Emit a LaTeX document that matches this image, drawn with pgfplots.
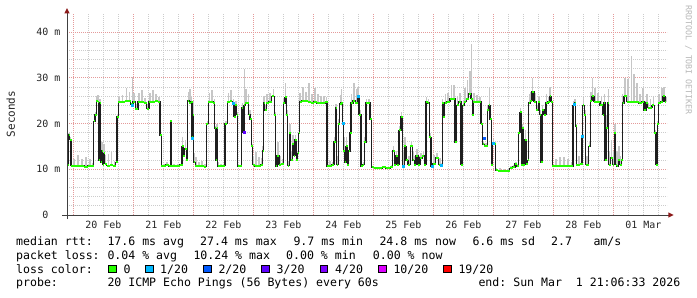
\documentclass[border=0pt]{standalone}
\usepackage{fontspec}
\setmonofont{DejaVu Sans Mono}
\usepackage{pgfplots}
\pgfplotsset{compat=1.18}
\usepackage{pgfplotstable}
\usetikzlibrary{arrows.meta}

\definecolor{lossgreen}{HTML}{26FF00}
\definecolor{loss1}{HTML}{00B8FF}
\definecolor{loss2}{HTML}{0059FF}
\definecolor{loss3}{HTML}{5E00FF}
\definecolor{loss4}{HTML}{7E00FF}
\definecolor{loss10}{HTML}{DD00FF}
\definecolor{loss19}{HTML}{FF0000}
\definecolor{majgrid}{HTML}{E49A9A}
\definecolor{mingrid}{HTML}{CCCCCC}
\definecolor{arrowred}{HTML}{8C1A1A}
\definecolor{axisgray}{HTML}{404040}
\definecolor{smoke}{HTML}{C6C6C6}
\definecolor{medline}{HTML}{1E1E1E}

% h = hours since 20 Feb 00:00, y = median rtt (ms), s = smoke extent above median (ms)
\pgfplotstableread{
h y s
-2.52 17.5 0.5
-2.12 11 0
-1.72 17.5 0.5
-1.12 16.5 0.5
-0.72 10.8 0.5
0.28 10.8 1.5
1.88 10.7 2.5
3.48 10.8 1.5
5.08 10.6 2
6.68 10.7 1.5
7.88 10.8 0.5
8.4 20.5 0
8.88 22 0.5
9.48 25 1
9.88 24.8 1.5
10.28 12 1
10.68 24.5 1
11.08 11.5 2
11.48 14 2
11.88 11 3
12.28 13.5 2
12.68 11.2 2
14.08 10.8 2.5
15.28 10.9 3
16.48 10.8 1
17.28 11.5 1
17.68 21.5 0.5
18.28 24.8 1
19.68 24.8 1.5
21.28 24.9 3
22.48 25 2
23.52 24.2 6
24.28 24.8 2
25.36 23.2 1
26.28 24.8 2
27.48 24.8 2.5
28.68 24.6 1
29.88 23.3 1
30.68 24.8 2
31.88 24.8 2.5
33.08 24.9 1.5
34.28 24.8 1
34.96 17.5 0.5
35.36 10.7 1
36.28 10.7 0.5
37.48 11 0.5
38.68 10.7 0.3
38.96 20.5 0.3
39.36 10.8 0.3
40.28 10.7 0.5
41.88 10.7 0.5
43.28 11 1
43.76 15 2
44.28 13 1.5
44.88 14.5 2
45.48 12 1
46 25 2
46.68 24.5 3
47.28 24.8 1
47.6 17 0.5
48 22 3
48.4 11.5 2
49.08 10.7 2
50.28 10.7 1
51.48 10.8 1
52.68 10.6 0.5
53.6 20 0.5
54.4 24.8 2
55.48 24.8 2.5
56.4 24.5 1
56.68 19 0.5
57.08 12 2
57.48 19 1
58 10.7 1
59.08 10.7 0.5
60.28 10.8 0.3
61.08 20 0.5
62 24.8 2
63.08 24.9 2.5
64 24.5 1
64.48 21.5 0.5
65.08 24 1
65.6 22 0.5
66 10.7 0.5
67.08 10.7 0.3
67.6 23.5 1
68.08 18 0.5
68.4 24 8
69.08 24.6 3
70 24.5 2
70.4 22 1
70.96 21 2
71.48 15 0.5
71.88 11 2
73.08 10.7 3
74.28 10.8 2
75.48 11 1.5
75.88 14 1
76.28 24.5 1.5
76.88 23 1
77.48 24.5 2
78.68 24.8 2
80 26 1.5
80.68 22 0.5
81.08 10.7 1
81.88 13 3
82.68 11 2
83.76 11.2 1
84.28 24.5 1
84.96 25.8 3
85.48 22 1
86 10.8 1
86.68 17.9 2
87.28 12 2
87.88 15.5 2
88.4 13 2
88.88 16.5 1
89.48 12 2
90 13.5 1
90.4 17.9 0.5
90.68 24.8 2
91.88 25 3
93.08 24.9 2
94.28 24.8 4
95.48 24.6 2
96.68 24.8 3
97.88 24.5 2
99.08 24.6 1.5
100.28 24.5 1.5
101.28 24.8 1
101.6 10.7 0.5
102.68 10.8 1
103.88 11 0.5
104.68 16 1
105.08 23.4 1
105.6 11 2
106.28 20 1
106.88 24.3 2
107.36 24.5 3
107.76 20 2
108.28 14 3
108.8 11.5 2
109.36 15 2
109.88 11 1
110.4 14 2
110.88 18 1
111.36 24.5 2
112.28 25 4
113.28 24.5 3
113.88 26 2
114.68 22 1
115.36 10.7 0.5
116 11 0.5
116.68 16 1
117.36 24.5 1
118.28 24.5 1
118.96 21 0.5
119.76 10.4 0.3
121.08 10.3 0.3
122.68 10.3 0.3
124.28 10.4 0.3
125.88 10.3 0.3
127.48 10.4 0.5
128.08 14 1
128.68 11 2
129.36 13 1
129.88 11 1
130.68 18.5 1
131.36 21.5 1
132 10.7 3
132.68 15 2
133.36 12 3
134.28 11 2
135.36 15 1
136 12 2
136.68 11 2
137.48 13 1.5
138.28 11 2
139.08 12.5 1
140 13 1
140.68 11 1
141.36 24.8 1
142 24.5 1
142.68 17 1
143.36 10.7 1
144.28 11.2 2
145.48 12.5 1
146.68 11 1.5
147.36 10.8 0.5
147.76 24.5 1
148.28 21.5 2
148.88 24.5 2
149.88 24.8 2
151.36 25.5 3
152.28 25.5 3
153.08 16 1
153.68 24 2
154.68 24.8 2
155.36 11 2
156 24 1
156.68 24.8 3
157.68 25.5 4
158.68 26.5 5
159.36 25.5 12
159.76 22 2
160.28 24.8 2
161.48 24.8 1.5
162.68 24.8 1
163.36 20 0.5
164 15.5 0.5
164.68 15.2 0.5
165.36 15.2 0.5
165.76 23 1
166.4 24 4
166.96 21 1
167.36 11 0.5
168 15.7 1
168.68 15.5 0.5
169.08 9.8 0.5
170.68 9.7 0.5
172.28 9.7 0.3
173.88 9.7 0.3
175.08 10.2 0.5
176.28 10.5 0.5
177.08 11.2 0.5
177.68 10.7 0.5
178.4 18 1
178.96 22.5 1
179.48 11 1
179.76 19 1
180.28 11 1
180.96 16.5 2
181.36 11.2 1
182 12 1
182.4 24.5 2
183.08 25 2
183.76 27 3
184.68 24.8 2
185.6 23 1
186.28 24.8 1
186.68 22 1
187.36 11.5 0.5
187.76 23 1
188.68 22 1
189.36 24.5 2
190.28 24.8 1
190.68 26 2
191.36 24.8 1
191.76 10.7 1
193.08 10.7 1.5
194.68 10.8 2
196.28 10.7 2
197.88 10.8 1.5
199.48 10.7 1
200.28 24 1
200.68 24.5 1
201.08 19.5 0.5
201.36 11 2
202.28 11 2
203.28 11.2 1
203.6 17.3 1
204 24 2
204.68 22 1
205.08 11 2
205.88 11 2
206.4 15 1
207.08 25 2
207.76 26 4
208.68 24.8 3
209.88 24.8 2
211.36 24 2
212 22 1
212.4 24.5 2
212.96 12 2
213.36 19 3
214 24.5 3
214.4 11 3
215.36 12.5 4
216 11 3
216.68 17.9 2
217.08 11 3
217.6 10.7 3
218.28 12 3
218.88 11 2
219.6 12 1
219.76 24.5 2
220.68 26 4
221.88 24.8 5
223.36 24.8 10
224.28 24.8 6
225.48 24.8 4
226.68 24.5 2
227.88 24.8 3
228.68 23 2
229.48 24.5 2
230.08 23.5 1
230.96 23.5 2
232 24 2
232.68 18 0.5
233.36 11 0.5
233.76 20 0.5
234.28 24.5 2
235.48 24.8 3
236.28 26 2
237.08 24.8 1
}\med

\begin{document}
\begin{tikzpicture}[x=1bp,y=1bp]
\path[use as bounding box] (0,0) rectangle (697,297);
\fill[white] (0,0) rectangle (697,297);
\begin{axis}[
  at={(67bp,82bp)}, anchor=south west,
  scale only axis, width=600bp, height=201.7bp,
  xmin=-2.52, xmax=237.48, ymin=0, ymax=44.16,
  axis line style={draw=none},
  major tick length=0pt, minor tick length=0pt,
  xtick={12,36,...,228},
  xticklabels={20 Feb,21 Feb,22 Feb,23 Feb,24 Feb,25 Feb,26 Feb,27 Feb,28 Feb,01 Mar},
  minor xtick={6,12,18,30,36,42,54,60,66,78,84,90,102,108,114,126,132,138,150,156,162,174,180,186,198,204,210,222,228,234},
  xmajorgrids=false, xminorgrids=true,
  extra x ticks={0,24,...,216}, extra x tick labels={},
  extra x tick style={grid=major},
  ytick={0,10,20,30,40},
  yticklabels={0\hphantom{ m},10 m,20 m,30 m,40 m},
  minor y tick num=4,
  ymajorgrids=true, yminorgrids=true,
  major grid style={draw=majgrid, line width=1bp, dash pattern=on 1bp off 1bp},
  minor grid style={draw=mingrid, line width=1bp, dash pattern=on 1bp off 1bp},
  ticklabel style={font=\ttfamily\fontsize{10}{12}\selectfont, text=black!85},
  xticklabel style={anchor=base, inner sep=0pt, yshift=-13.3bp},
  yticklabel style={anchor=east, inner sep=0pt, xshift=-6.5bp},
]
% smoke
\addplot[draw=none, mark=none, forget plot,
  error bars/.cd, y dir=plus, y explicit, error mark=none,
  error bar style={draw=smoke, line width=1.2bp, solid}]
  table[x=h, y=y, y error=s] {\med};
% median connectors
\addplot[const plot mark mid, mark=none, draw=medline, line width=1.3bp] table[x=h, y=y] {\med};
% median, loss-free colour
\addplot[jump mark mid, mark=none, color=lossgreen, line width=2bp] table[x=h, y=y] {\med};
% samples with some loss
\addplot[only marks, mark=square*, mark size=1bp, color=loss1] coordinates {
(23.4,24) (47.7,16.8) (64.1,24.4) (107.76,20.1) (113.8,26.1) (132,10.7) (143.5,10.7) (147,11) (168,15.7) (200.3,24.3) (203.6,17.3)};
\addplot[only marks, mark=square*, mark size=1bp, color=loss2] coordinates {(164.4,16.9)};
\addplot[only marks, mark=square*, mark size=1bp, color=loss3] coordinates {(68.3,18.1)};
\end{axis}

% axes with arrows
\draw[axisgray, line width=1bp] (62,82) -- (668.5,82);
\fill[arrowred] (668.3,84.6) -- (673.5,82) -- (668.3,79.4) -- cycle;
\draw[axisgray, line width=1bp] (67,78) -- (67,283.8);
\fill[arrowred] (64.4,283.6) -- (67,288.8) -- (69.6,283.6) -- cycle;

% axis title and watermark
\node[rotate=90, inner sep=0pt, font=\ttfamily\fontsize{11}{13}\selectfont, text=black!85] at (10.8,183) {Seconds};
\node[rotate=-90, inner sep=0pt, font=\ttfamily\fontsize{8.3}{10}\selectfont, text=black!28] at (688.5,237) {RRDTOOL / TOBI OETIKER};

\tikzset{leg/.style={anchor=base west, inner sep=0pt, font=\ttfamily\fontsize{11.6}{13}\selectfont, text=black}}
% row 1
\node[leg] at (16,51.7) {median rtt:};
\node[leg] at (107.3,51.7) {17.6 ms avg};
\node[leg] at (200,51.7) {27.4 ms max};
\node[leg] at (293.3,51.7) {9.7 ms min};
\node[leg] at (379.3,51.7) {24.8 ms now};
\node[leg] at (472.3,51.7) {6.6 ms sd};
\node[leg] at (551,51.7) {2.7};
\node[leg] at (593.3,51.7) {am/s};
% row 2
\node[leg] at (16,37.8) {packet loss:};
\node[leg] at (107.3,37.8) {0.04 \% avg};
\node[leg] at (193.3,37.8) {10.24 \% max};
\node[leg] at (286,37.8) {0.00 \% min};
\node[leg] at (372.7,37.8) {0.00 \% now};
% row 3
\node[leg] at (16,24) {loss color:};
\filldraw[fill=lossgreen, draw=black, line width=0.8bp] (108.7,24.2) rectangle ++(7.6,7.6);
\node[leg] at (123.3,24) {0};
\filldraw[fill=loss1, draw=black, line width=0.8bp] (145.4,24.2) rectangle ++(7.6,7.6);
\node[leg] at (160,24) {1/20};
\filldraw[fill=loss2, draw=black, line width=0.8bp] (203.6,24.2) rectangle ++(7.6,7.6);
\node[leg] at (218.3,24) {2/20};
\filldraw[fill=loss3, draw=black, line width=0.8bp] (261.8,24.2) rectangle ++(7.6,7.6);
\node[leg] at (276.5,24) {3/20};
\filldraw[fill=loss4, draw=black, line width=0.8bp] (320.2,24.2) rectangle ++(7.6,7.6);
\node[leg] at (335,24) {4/20};
\filldraw[fill=loss10, draw=black, line width=0.8bp] (378.6,24.2) rectangle ++(7.6,7.6);
\node[leg] at (393.3,24) {10/20};
\filldraw[fill=loss19, draw=black, line width=0.8bp] (443.6,24.2) rectangle ++(7.6,7.6);
\node[leg] at (458.3,24) {19/20};
% row 4
\node[leg] at (16,10.2) {probe:};
\node[leg] at (107.3,10.2) {20 ICMP Echo Pings (56 Bytes) every 60s};
\node[leg] at (478.3,10.2) {end: Sun Mar~~1 21:06:33 2026};
\end{tikzpicture}
\end{document}
